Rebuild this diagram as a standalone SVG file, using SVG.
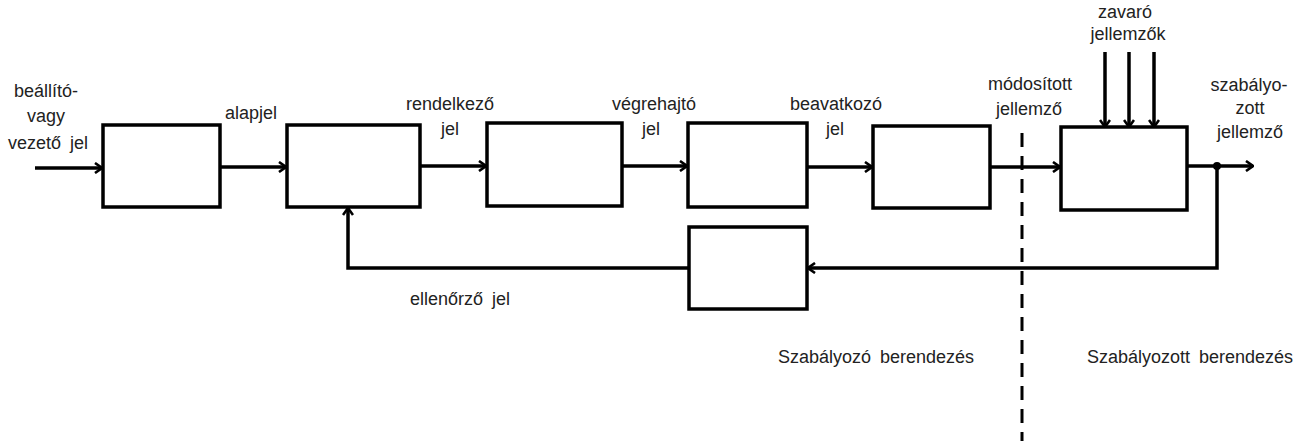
<svg xmlns="http://www.w3.org/2000/svg" width="1307" height="441" viewBox="0 0 1307 441">
<defs>
<style>
.box{fill:#fff;stroke:#000;stroke-width:3.5}
.ln{fill:none;stroke:#000;stroke-width:3.5}
.dash{fill:none;stroke:#000;stroke-width:3;stroke-dasharray:14 9}
text{font-family:"Liberation Sans",Arial,sans-serif;font-size:18px;fill:#222;text-anchor:middle;word-spacing:4px}
</style>
<marker id="ah" viewBox="0 0 12 12" refX="11" refY="6" markerWidth="12" markerHeight="12" markerUnits="userSpaceOnUse" orient="auto">
<path d="M4,1 L11,6 L4,11" fill="none" stroke="#000" stroke-width="2.6"/>
</marker>
</defs>
<rect width="1307" height="441" fill="#fff"/>

<g id="connectors">
<line class="ln" x1="35" y1="168" x2="102" y2="168" marker-end="url(#ah)"/>
<line class="ln" x1="220" y1="167" x2="286" y2="167" marker-end="url(#ah)"/>
<line class="ln" x1="420" y1="166" x2="486" y2="166" marker-end="url(#ah)"/>
<line class="ln" x1="622" y1="166" x2="687" y2="166" marker-end="url(#ah)"/>
<line class="ln" x1="807" y1="167" x2="872" y2="167" marker-end="url(#ah)"/>
<line class="ln" x1="990" y1="167" x2="1060" y2="167" marker-end="url(#ah)"/>
<line class="ln" x1="1187" y1="166" x2="1253" y2="166" marker-end="url(#ah)"/>
<line class="ln" x1="1105" y1="52" x2="1105" y2="127" marker-end="url(#ah)"/>
<line class="ln" x1="1129" y1="52" x2="1129" y2="127" marker-end="url(#ah)"/>
<line class="ln" x1="1154" y1="52" x2="1154" y2="127" marker-end="url(#ah)"/>
<polyline class="ln" points="1217,166 1217,268 808,268" marker-end="url(#ah)"/>
<polyline class="ln" points="689,268 348,268 348,208" marker-end="url(#ah)"/>
<circle cx="1217" cy="166" r="4" fill="#000"/>
<line class="dash" x1="1022" y1="133" x2="1022" y2="441"/>
</g>

<g id="n1"><rect class="box" x="103" y="125" width="117" height="82"/></g>
<g id="n2"><rect class="box" x="287" y="125" width="133" height="82"/></g>
<g id="n3"><rect class="box" x="487" y="123" width="135" height="83"/></g>
<g id="n4"><rect class="box" x="688" y="123" width="119" height="84"/></g>
<g id="n5"><rect class="box" x="873" y="126" width="117" height="82"/></g>
<g id="n6"><rect class="box" x="1061" y="127" width="126" height="83"/></g>
<g id="n7"><rect class="box" x="689" y="227" width="118" height="82"/></g>

<g id="labels">
<text x="46" y="97">beállító-</text>
<text x="46" y="122">vagy</text>
<text x="48" y="149">vezető jel</text>
<text x="251" y="119">alapjel</text>
<text x="450" y="110">rendelkező</text>
<text x="450" y="135">jel</text>
<text x="654" y="110">végrehajtó</text>
<text x="651" y="135">jel</text>
<text x="836" y="110">beavatkozó</text>
<text x="835" y="135">jel</text>
<text x="1030" y="90">módosított</text>
<text x="1029" y="115">jellemző</text>
<text x="1125" y="18">zavaró</text>
<text x="1128" y="40">jellemzők</text>
<text x="1249" y="91">szabályo-</text>
<text x="1250" y="114">zott</text>
<text x="1250" y="138">jellemző</text>
<text x="460" y="305">ellenőrző jel</text>
<text x="876" y="363">Szabályozó berendezés</text>
<text x="1190" y="363">Szabályozott berendezés</text>
</g>
</svg>
